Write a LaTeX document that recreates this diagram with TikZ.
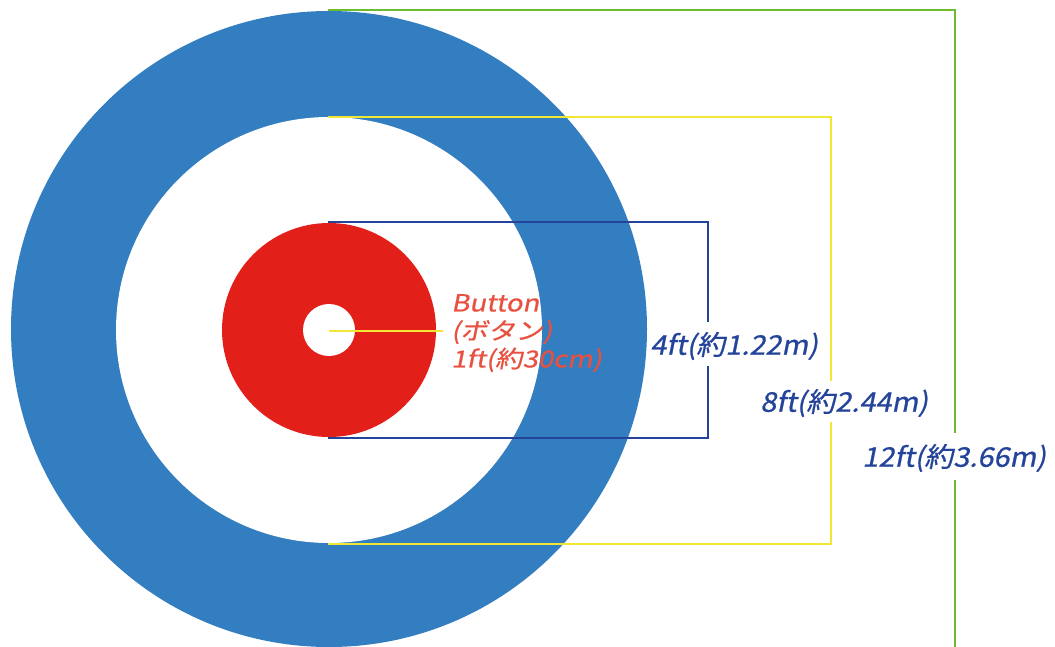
\documentclass[tikz,border=0pt]{standalone}
\usepackage{fontspec}
\newfontfamily\lblfont[FakeSlant=0.2,FakeStretch=1.07,FakeBold=0.8]{Noto Sans CJK JP}
\newfontfamily\btnfont[FakeSlant=0.2,FakeStretch=1.17,FakeBold=0.6]{Noto Sans CJK JP}
\definecolor{ringblue}{HTML}{337DC1}
\definecolor{housered}{HTML}{E31F1A}
\definecolor{lblred}{HTML}{E8503F}
\definecolor{lineblue}{HTML}{23449A}
\definecolor{linegreen}{HTML}{6DBB2F}
\definecolor{lineyellow}{HTML}{F0E634}
\tikzset{
  dimline/.style={line width=2.8pt},
  dimlabel/.style={font=\lblfont\fontsize{27}{30}\selectfont, text=lineblue, inner sep=0pt, anchor=west},
  btnlabel/.style={font=\btnfont\fontsize{23.5}{28}\selectfont, text=lblred, inner sep=0pt, anchor=north west, align=left},
}
\begin{document}
\begin{tikzpicture}[x=1pt,y=-1pt]
\useasboundingbox (0,0) rectangle (1055,646);
% target
\fill[ringblue] (329,329) circle (318);
\fill[white] (329,330) circle (213);
\fill[housered] (329,330) circle (107);
\fill[white] (329,330) circle (26);
\coordinate (c) at (329,331);
% labels
\node[btnlabel] (btn) at (451,294) {Button\\(ボタン)\\1ft(約30cm)};
\node[dimlabel] (l4) at (650,346) {4ft(約1.22m)};
\node[dimlabel] (l8) at (760,403) {8ft(約2.44m)};
\node[dimlabel] (l12) at (862,458) {12ft(約3.66m)};
% button line
\coordinate (bend) at (443,331);
\draw[dimline, lineyellow] (c) -- (bend);
% 4ft bracket
\coordinate (a1) at (328,222);
\coordinate (a2) at (708,222);
\coordinate (a3) at (708,322);
\coordinate (a4) at (708,366);
\coordinate (a5) at (708,438);
\coordinate (a6) at (328,438);
\draw[dimline, lineblue] (a1) -- (a2) -- (a3);
\draw[dimline, lineblue] (a4) -- (a5) -- (a6);
% 8ft bracket
\coordinate (y1) at (328,117);
\coordinate (y2) at (831,117);
\coordinate (y3) at (831,381);
\coordinate (y4) at (831,422);
\coordinate (y5) at (831,544);
\coordinate (y6) at (328,544);
\draw[dimline, lineyellow] (y1) -- (y2) -- (y3);
\draw[dimline, lineyellow] (y4) -- (y5) -- (y6);
% 12ft bracket
\coordinate (g1) at (328,10);
\coordinate (g2) at (955,10);
\coordinate (g3) at (955,433);
\coordinate (g4) at (955,480);
\coordinate (g5) at (955,650);
\draw[dimline, linegreen] (g1) -- (g2) -- (g3);
\draw[dimline, linegreen] (g4) -- (g5);
\end{tikzpicture}
\end{document}
